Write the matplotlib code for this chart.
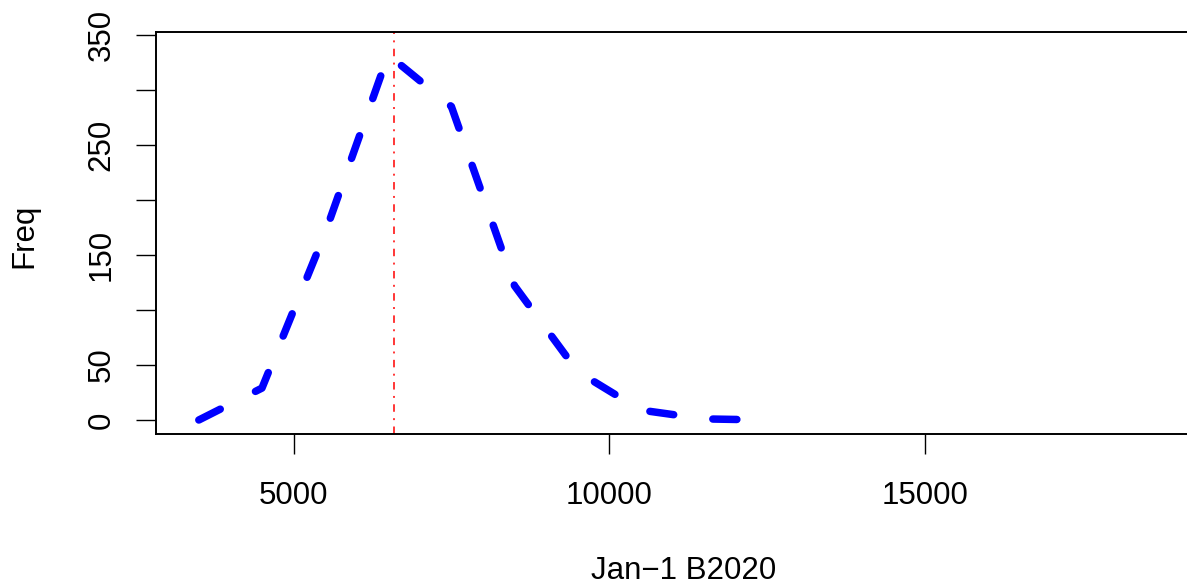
import matplotlib
matplotlib.use("Agg")
import matplotlib.pyplot as plt

# данные
bin_mids = [3500, 4500, 5500, 6500, 7500, 8500, 9500, 10500, 11500, 12500]
freq = [0, 29, 170, 332, 285, 122, 44, 9, 1, 0]
mark_x = 6596
x_ticks = [5000, 10000, 15000]
y_ticks = [0, 50, 100, 150, 200, 250, 300, 350]
y_tick_labels = ["0", "50", "", "150", "", "250", "", "350"]

plt.rcParams['font.family'] = ['Liberation Sans', 'DejaVu Sans']
plt.rcParams['lines.scale_dashes'] = False

W, H = 1187, 586
fig = plt.figure(figsize=(W / 100, H / 100), dpi=100)
# поле графика в пикселях: слева 156, справа 1216 (за краем), сверху 31.7, снизу 434.3
ax = fig.add_axes([156 / W, (H - 434.3) / H, (1216 - 156) / W, (434.3 - 31.7) / H])

ax.plot(bin_mids, freq, color='#0000ff', lw=5.4, dashes=(17.3, 28.4),
        dash_capstyle='round', solid_capstyle='round', dash_joinstyle='round')
ax.axvline(mark_x, color='#ff0000', lw=1.1, linestyle=(0, (5.4, 4.6, 1.4, 4.6)))

ax.set_xlim(2822, 19609)
ax.set_ylim(-13, 353)

ax.set_xticks(x_ticks)
ax.set_xticklabels([str(v) for v in x_ticks])
ax.set_yticks(y_ticks)
ax.set_yticklabels(y_tick_labels, rotation=90, va='center')

ax.tick_params(axis='both', direction='out', length=14.4, width=1.0,
               labelsize=22.5, color='black')
ax.tick_params(axis='x', pad=19)
ax.tick_params(axis='y', pad=14)

for s in ax.spines.values():
    s.set_linewidth(1.4)
ax.spines['right'].set_visible(False)

fig.text(684 / W, 1 - 579.3 / H, "Jan\u22121 B2020", ha='center', va='baseline',
         fontsize=22.5)
fig.text(32 / W, 1 - 236 / H, "Freq", ha='center', va='baseline', rotation=90,
         rotation_mode='anchor', fontsize=22.5)

fig.savefig("out.png", dpi=100)
